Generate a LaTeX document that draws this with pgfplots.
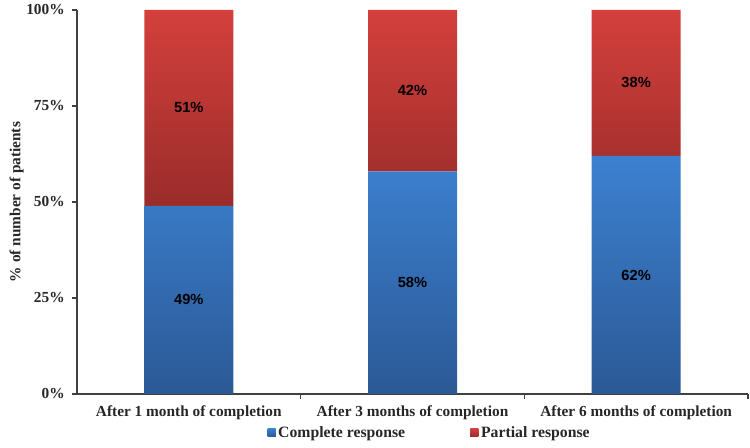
\documentclass[border=0pt]{standalone}
\usepackage{fontspec}
\setmainfont{Liberation Serif}
\newfontfamily\labelfont{Liberation Sans}
\usepackage{pgfplots}
\pgfplotsset{compat=1.18}
\definecolor{axiscol}{RGB}{64,64,64}
\definecolor{bluetop}{RGB}{60,129,208}
\definecolor{bluebot}{RGB}{43,89,150}
\definecolor{redtop}{RGB}{212,64,60}
\definecolor{redbot}{RGB}{154,44,42}
\definecolor{blueleg}{RGB}{52,110,180}
\definecolor{redleg}{RGB}{190,52,50}
\begin{document}
\begin{tikzpicture}
\useasboundingbox (-57.75pt,-40.5pt) rectangle (504.75pt,295.5pt);
\begin{axis}[
  at={(0,0)}, anchor=south west,
  scale only axis, width=503.25pt, height=288pt,
  ybar stacked, bar width=66.75pt,
  xmin=-0.5, xmax=2.5, ymin=0, ymax=100,
  axis x line*=bottom, axis y line*=left,
  axis line style={-, draw=axiscol, line width=1pt},
  /pgf/number format/assume math mode=true,
  ytick={0,25,50,75,100},
  yticklabels={0\%,25\%,50\%,75\%,100\%},
  ytick align=outside, major tick length=3.75pt,
  y tick style={draw=axiscol, line width=1pt},
  yticklabel style={font=\fontsize{11.5}{13}\selectfont\bfseries, color=black!85, xshift=-2pt},
  xtick={0,1,2},
  xticklabels={After 1 month of completion, After 3 months of completion, After 6 months of completion},
  x tick style={draw=none},
  xticklabel style={font=\fontsize{11.5}{13}\selectfont\bfseries, color=black!85, yshift=-5pt},
  extra x ticks={0.5,1.5,2.5},
  extra x tick labels={},
  extra x tick style={x tick style={draw=axiscol, line width=1pt}, xtick align=outside},
  ylabel={\% of number of patients},
  every axis y label/.style={at={(axis description cs:-0.090,0.5)}, rotate=90, anchor=center, font=\fontsize{11.5}{13}\selectfont\bfseries, color=black!85},
  point meta=explicit,
  nodes near coords={\pgfmathprintnumber{\pgfplotspointmeta}\%},
  every node near coord/.append style={font=\labelfont\fontsize{11}{13}\selectfont\bfseries, color=black, anchor=center},
  legend columns=2,
  legend style={at={(axis description cs:0.526,0)}, anchor=center, yshift=-29pt, draw=none, fill=none,
    font=\fontsize{11.8}{13}\selectfont\bfseries, text=black!85,
    /tikz/every even column/.append style={column sep=47pt}},
  legend cell align=left,
]
\addplot[draw=none, top color=bluetop, bottom color=bluebot,
  legend image code/.code={\fill[blueleg] (0pt,-3pt) rectangle (6pt,3pt);}]
  coordinates {(0,49) [49] (1,58) [58] (2,62) [62]};
\addlegendentry{Complete response}
\addplot[draw=none, top color=redtop, bottom color=redbot,
  legend image code/.code={\fill[redleg] (0pt,-3pt) rectangle (6pt,3pt);}]
  coordinates {(0,51) [51] (1,42) [42] (2,38) [38]};
\addlegendentry{Partial response}
\end{axis}
\end{tikzpicture}
\end{document}
